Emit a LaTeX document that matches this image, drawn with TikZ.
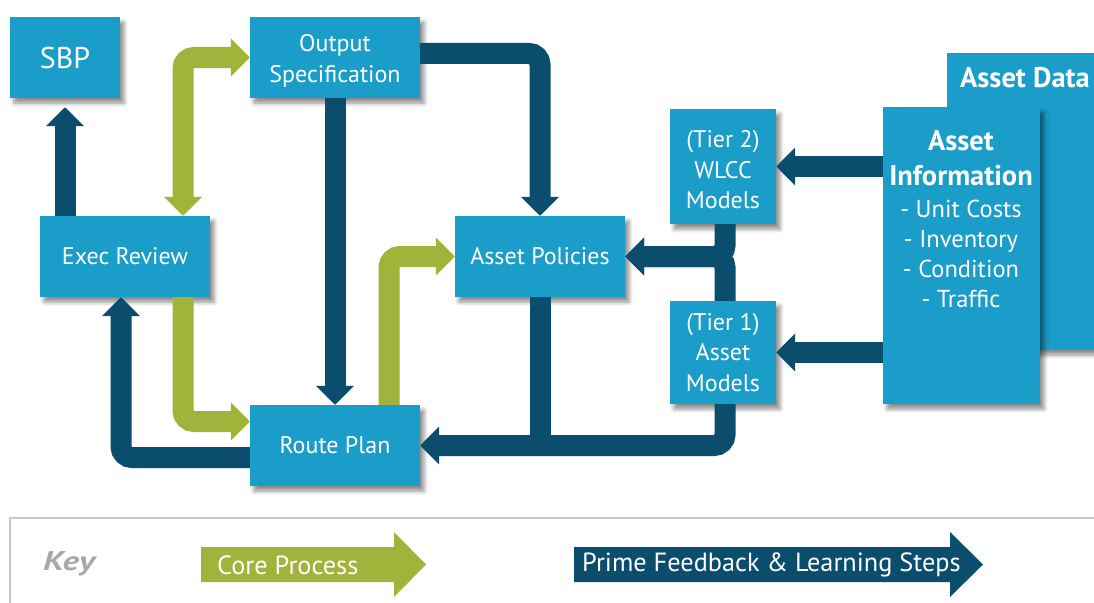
\documentclass[tikz,border=0pt]{standalone}
\usepackage{fontspec}
\setmainfont{PT Sans}
\usetikzlibrary{arrows.meta,shadows.blur}
\definecolor{boxblue}{HTML}{1A9DC8}
\definecolor{darkblue}{HTML}{0B4D6D}
\definecolor{leaf}{HTML}{A2B33C}
\definecolor{keygray}{HTML}{A8A8A8}
\definecolor{framegray}{HTML}{C8C8C8}
\newcommand{\topstrut}{\rule{0pt}{24pt}}
\begin{document}
\begin{tikzpicture}[x=1pt,y=-1pt,
  box/.style={fill=boxblue, text=white, inner sep=0pt, align=center,
    font=\fontsize{24}{30.5}\selectfont,
    blur shadow={shadow xshift=4pt,shadow yshift=-5pt,shadow opacity=45,shadow blur radius=4pt}},
  midbox/.style={box, minimum width=170pt, minimum height=81pt},
  fb/.style={draw=darkblue, line width=21pt, rounded corners=11pt, -{Triangle[width=37pt,length=19pt]}},
  cp/.style={draw=leaf, line width=21pt, rounded corners=11pt, -{Triangle[width=37pt,length=19pt]}},
  aitxt/.style={text=white, anchor=base, inner sep=0pt, font=\fontsize{24.5}{30}\selectfont},
  aibold/.style={aitxt, font=\bfseries\fontsize{28.5}{32}\selectfont},
  keytxt/.style={text=white, anchor=west, inner sep=0pt, font=\fontsize{26.3}{30}\selectfont},
]
\useasboundingbox (0,0) rectangle (1094,602);

% boxes
\node[box, minimum width=163pt, minimum height=297pt] (AD) at (1028.5,201.5) {};
\node[aibold] (adt) at (1025,87) {Asset Data};
\node[box, minimum width=110pt, minimum height=81pt, font=\fontsize{30}{36}\selectfont] (SBP) at (65,57.5) {SBP};
\node[midbox] (OS) at (335,57.5) {\topstrut Output\\Specification};
\node[midbox] (ER) at (125,256.5) {Exec Review};
\node[midbox] (RP) at (335,445.5) {Route Plan};
\node[midbox] (AP) at (540,256.5) {Asset Policies};
\node[box, minimum width=106pt, minimum height=115pt] (T2) at (723,166.5) {\topstrut(Tier 2)\\WLCC\\Models};
\node[box, minimum width=106pt, minimum height=103pt] (T1) at (723,352.5) {(Tier 1)\\Asset\\Models};
\node[box, minimum width=157pt, minimum height=297pt] (AI) at (961.5,255.5) {};
\node[aibold] (ai1) at (961,150) {Asset};
\node[aibold] (ai2) at (961,185) {Information};
\node[aitxt] (ai3) at (961,217) {- Unit Costs};
\node[aitxt] (ai4) at (961,247) {- Inventory};
\node[aitxt] (ai5) at (961,277) {- Condition};
\node[aitxt] (ai6) at (961,307) {- Traffic};

% connectors
\draw[fb] ([xshift=-60pt]ER.north) -- ([yshift=-9pt]SBP.south);
\draw[cp, {Triangle[width=37pt,length=19pt]}-{Triangle[width=37pt,length=19pt]}] ([xshift=58pt]ER.north) |- (OS.west);
\draw[fb] ([yshift=4pt]OS.east) -| (AP.north);
\draw[fb] (OS.south) -- (RP.north);
\draw[cp] ([xshift=58pt]ER.south) |- ([yshift=24pt]RP.west);
\draw[fb] ([yshift=-12pt]RP.west) -| ([xshift=-4pt]ER.south);
\draw[cp] ([xshift=54pt]RP.north) |- (AP.west);
\draw[fb] (AI.west |- T2.east) -- (T2.east);
\draw[fb] (AI.west |- T1.east) -- (T1.east);
\draw[fb] ([xshift=2pt]T2.south) |- (AP.east);
\draw[fb] ([xshift=2pt]T1.north) |- (AP.east);
\draw[fb] ([xshift=2pt]T1.south) |- (RP.east);
\draw[fb, -] (AP.south) -- (AP.south |- RP.east);

% key
\draw[framegray, line width=2pt] (10,610) -- (10,518) -- (1100,518);
\node[font=\bfseries\itshape\fontsize{27}{30}\selectfont, text=keygray, inner sep=0pt] (key) at (69,564) {\scalebox{1.3}[1]{Key}};
\fill[leaf] (201,547) -- (394,547) -- (394,532) -- (426,564.5) -- (394,597) -- (394,582) -- (201,582) -- cycle;
\node[keytxt] (kcp) at (217,565) {Core Process};
\fill[darkblue] (574,547) -- (950,547) -- (950,532) -- (983,564.5) -- (950,597) -- (950,582) -- (574,582) -- cycle;
\node[keytxt] (kfb) at (582,565) {Prime Feedback \& Learning Steps};
\end{tikzpicture}
\end{document}
